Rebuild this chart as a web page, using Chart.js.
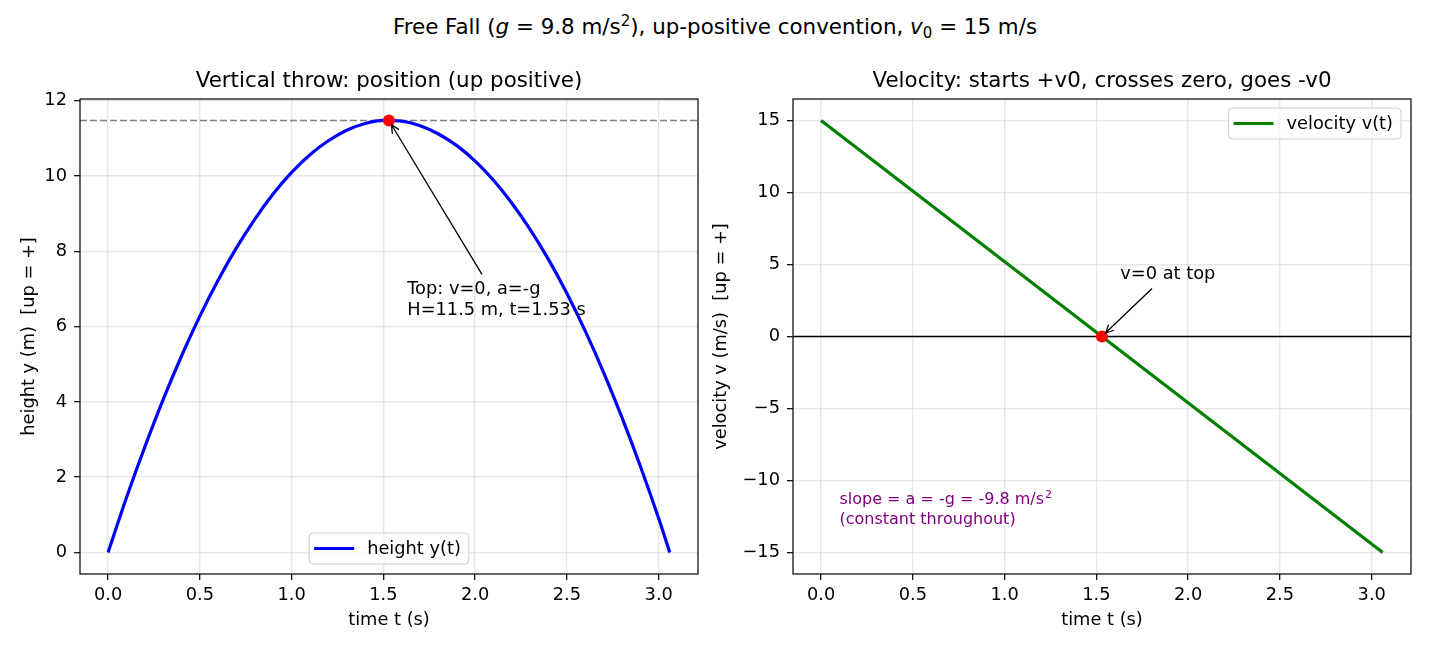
<!DOCTYPE html>
<html>
<head>
<meta charset="utf-8">
<title>Free Fall</title>
<script src="https://cdn.jsdelivr.net/npm/chart.js@4.4.1/dist/chart.umd.min.js"></script>
<style>
  html, body { margin: 0; padding: 0; background: #fff; }
  body { width: 1430px; height: 650px; position: relative; overflow: hidden; font-family: 'DejaVu Sans', sans-serif; }
  #suptitle { position: absolute; left: 0; top: 14px; width: 1430px; text-align: center; font-size: 21.4px; line-height: 26px; color: #000; }
  #suptitle sup { font-size: 15px; line-height: 0; vertical-align: 8px; }
  #suptitle sub { font-size: 15px; line-height: 0; vertical-align: -4px; }
  .panel { position: absolute; top: 0; height: 650px; }
  #leftPanel { left: 0; width: 715px; }
  #rightPanel { left: 710px; width: 720px; }
</style>
</head>
<body>
<div id="suptitle">Free Fall (<i>g</i> = 9.8 m/s<sup>2</sup>), up-positive convention, <i>v</i><sub>0</sub> = 15 m/s</div>
<div class="panel" id="leftPanel"><canvas id="heightChart"></canvas></div>
<div class="panel" id="rightPanel"><canvas id="velocityChart"></canvas></div>

<script>
// Data
const timeS = [0, 0.1, 0.2, 0.3, 0.4, 0.5, 0.6, 0.7, 0.8, 0.9, 1.0, 1.1, 1.2, 1.3, 1.4, 1.5,
               1.6, 1.7, 1.8, 1.9, 2.0, 2.1, 2.2, 2.3, 2.4, 2.5, 2.6, 2.7, 2.8, 2.9, 3.0, 3.06];
const heightM = [0, 1.45, 2.80, 4.06, 5.22, 6.28, 7.24, 8.10, 8.86, 9.53, 10.10, 10.57, 10.94, 11.22, 11.40, 11.48,
                 11.46, 11.34, 11.12, 10.81, 10.40, 9.89, 9.28, 8.58, 7.78, 6.88, 5.88, 4.78, 3.58, 2.29, 0.90, 0];
const velTimeS = [0, 3.06];
const velocityMS = [15, -15];
const peakTime = 1.53;
const peakHeight = 11.48;

// Axis limits and tick steps
const timeLimits = [-0.153, 3.214];
const heightLimits = [-0.574, 12.05];
const velocityLimits = [-16.5, 16.5];
const timeStep = 0.5;
const heightStep = 2;
const velocityStep = 5;

const FONT = "'DejaVu Sans', sans-serif";
const FS = 17.8;      // 10pt
const FS_TITLE = 21.4; // 12pt
const FS_SMALL = 16;  // 9pt

Chart.defaults.font.family = FONT;
Chart.defaults.color = '#000';

function fmtNum(v) {
    return v < 0 ? '\u2212' + Math.abs(v) : String(v);
}

// Build the two linear scales for one panel
function makeScales(yLimits, yStep, yTitle, yWidth, yTitlePad) {
    const grid = { color: 'rgba(176,176,176,0.3)', lineWidth: 1.4, tickColor: '#000', tickLength: 6, tickWidth: 1.2 };
    return {
        x: {
            type: 'linear',
            min: timeLimits[0], max: timeLimits[1],
            grid: grid,
            border: { display: false },
            ticks: { stepSize: timeStep, includeBounds: false, padding: 5, font: { size: FS }, callback: v => v.toFixed(1) },
            title: { display: true, text: 'time t (s)', font: { size: FS }, padding: { top: 0, bottom: 9 } },
            afterFit: s => { s.height = 66; }
        },
        y: {
            type: 'linear',
            min: yLimits[0], max: yLimits[1],
            grid: grid,
            border: { display: false },
            ticks: { stepSize: yStep, includeBounds: false, padding: 7, font: { size: FS }, callback: v => fmtNum(v) },
            title: { display: true, text: yTitle, font: { size: FS }, padding: { top: yTitlePad, bottom: 0 } },
            afterFit: s => { s.width = yWidth; }
        }
    };
}

function drawArrow(ctx, x1, y1, x2, y2) {
    // open '->' head, tip pulled back a little from the target
    const ang = Math.atan2(y2 - y1, x2 - x1);
    const tx = x2 - 5 * Math.cos(ang), ty = y2 - 5 * Math.sin(ang);
    ctx.beginPath();
    ctx.moveTo(x1, y1);
    ctx.lineTo(tx, ty);
    ctx.moveTo(tx - 9 * Math.cos(ang - 0.45), ty - 9 * Math.sin(ang - 0.45));
    ctx.lineTo(tx, ty);
    ctx.lineTo(tx - 9 * Math.cos(ang + 0.45), ty - 9 * Math.sin(ang + 0.45));
    ctx.stroke();
}

function drawLegend(chart, loc) {
    const ds = chart.data.datasets.find(d => d.label);
    const ctx = chart.ctx, a = chart.chartArea;
    ctx.save();
    ctx.font = FS + 'px ' + FONT;
    const tw = ctx.measureText(ds.label).width;
    const w = 5 + 40 + 13 + tw + 8, h = 31;
    let x, y;
    if (loc === 'upper right') { x = a.right - 10 - w; y = a.top + 9; }
    else { x = (a.left + a.right) / 2 - w / 2; y = a.bottom - 10 - h; }
    ctx.beginPath();
    if (ctx.roundRect) ctx.roundRect(x, y, w, h, 4); else ctx.rect(x, y, w, h);
    ctx.fillStyle = 'rgba(255,255,255,0.8)';
    ctx.fill();
    ctx.strokeStyle = '#cccccc';
    ctx.lineWidth = 1;
    ctx.stroke();
    ctx.strokeStyle = ds.borderColor;
    ctx.lineWidth = ds.borderWidth;
    ctx.beginPath();
    ctx.moveTo(x + 5, y + h / 2);
    ctx.lineTo(x + 45, y + h / 2);
    ctx.stroke();
    ctx.fillStyle = '#000';
    ctx.textBaseline = 'middle';
    ctx.textAlign = 'left';
    ctx.fillText(ds.label, x + 58, y + h / 2 + 1);
    ctx.restore();
}

// Axes box, reference lines, annotations, legend, subplot title
const axesDecor = {
    id: 'axesDecor',
    beforeDatasetsDraw(chart, args, opts) {
        const ctx = chart.ctx, a = chart.chartArea, ys = chart.scales.y;
        ctx.save();
        (opts.hlines || []).forEach(h => {
            const py = ys.getPixelForValue(h.value);
            ctx.strokeStyle = h.color;
            ctx.lineWidth = h.width;
            ctx.setLineDash(h.dash || []);
            ctx.beginPath();
            ctx.moveTo(a.left, py);
            ctx.lineTo(a.right, py);
            ctx.stroke();
        });
        ctx.restore();
    },
    afterDatasetsDraw(chart, args, opts) {
        const ctx = chart.ctx, a = chart.chartArea, xs = chart.scales.x, ys = chart.scales.y;
        ctx.save();
        // arrows
        ctx.strokeStyle = '#000';
        ctx.lineWidth = 1.3;
        (opts.arrows || []).forEach(ar => {
            drawArrow(ctx, xs.getPixelForValue(ar.from[0]), ys.getPixelForValue(ar.from[1]),
                      xs.getPixelForValue(ar.to[0]), ys.getPixelForValue(ar.to[1]));
        });
        // text annotations: anchor is the baseline of the last line
        (opts.texts || []).forEach(t => {
            const px = xs.getPixelForValue(t.x), py = ys.getPixelForValue(t.y);
            ctx.fillStyle = t.color || '#000';
            ctx.textAlign = 'left';
            ctx.textBaseline = 'alphabetic';
            const lh = t.size * 1.2;
            t.lines.forEach((ln, i) => {
                const ly = py - (t.lines.length - 1 - i) * lh;
                ctx.font = t.size + 'px ' + FONT;
                ctx.fillText(ln.text, px, ly);
                if (ln.sup) {
                    const w = ctx.measureText(ln.text).width;
                    ctx.font = (t.size * 0.7) + 'px ' + FONT;
                    ctx.fillText(ln.sup, px + w + 1, ly - t.size * 0.4);
                }
            });
        });
        // axes frame
        ctx.strokeStyle = '#000';
        ctx.lineWidth = 1.2;
        ctx.strokeRect(a.left, a.top, a.right - a.left, a.bottom - a.top);
        ctx.restore();
        if (opts.legendLoc) drawLegend(chart, opts.legendLoc);
    },
    afterDraw(chart, args, opts) {
        const ctx = chart.ctx, a = chart.chartArea;
        ctx.save();
        ctx.font = FS_TITLE + 'px ' + FONT;
        ctx.fillStyle = '#000';
        ctx.textAlign = 'center';
        ctx.textBaseline = 'alphabetic';
        ctx.fillText(opts.title, (a.left + a.right) / 2, a.top - 12);
        ctx.restore();
    }
};

function baseOptions(padding) {
    return {
        responsive: true,
        maintainAspectRatio: false,
        animation: false,
        layout: { padding: padding },
        plugins: { legend: { display: false }, tooltip: { enabled: false } },
        events: []
    };
}

// Left panel: height vs time
const heightOpts = baseOptions({ top: 99, left: 0, right: 17, bottom: 10 });
heightOpts.scales = makeScales(heightLimits, heightStep, 'height y (m)  [up = +]', 80, 19);
heightOpts.plugins.axesDecor = {
    title: 'Vertical throw: position (up positive)',
    hlines: [{ value: peakHeight, color: '#808080', width: 1.5, dash: [7, 3] }],
    arrows: [{ from: [2.037, 7.39], to: [peakTime, peakHeight] }],
    texts: [{ x: 1.63, y: 6.31, size: FS, lines: [{ text: 'Top: v=0, a=-g' }, { text: 'H=11.5 m, t=1.53 s' }] }],
    legendLoc: 'lower center'
};
new Chart(document.getElementById('heightChart'), {
    type: 'scatter',
    data: {
        datasets: [
            { label: 'height y(t)', data: timeS.map((t, i) => ({ x: t, y: heightM[i] })), showLine: true,
              borderColor: '#0000ff', borderWidth: 3.2, pointRadius: 0, cubicInterpolationMode: 'monotone', order: 2 },
            { label: '', data: [{ x: peakTime, y: peakHeight }], pointRadius: 6, pointBackgroundColor: '#ff0000',
              pointBorderWidth: 0, showLine: false, order: 1 }
        ]
    },
    options: heightOpts,
    plugins: [axesDecor]
});

// Right panel: velocity vs time
const velOpts = baseOptions({ top: 99, left: 0, right: 19, bottom: 10 });
velOpts.scales = makeScales(velocityLimits, velocityStep, 'velocity v (m/s)  [up = +]', 83, 1);
velOpts.plugins.axesDecor = {
    title: 'Velocity: starts +v0, crosses zero, goes -v0',
    hlines: [{ value: 0, color: '#000000', width: 1.3 }],
    arrows: [{ from: [1.803, 3.34], to: [peakTime, 0] }],
    texts: [
        { x: 1.63, y: 4, size: FS, lines: [{ text: 'v=0 at top' }] },
        { x: 0.1, y: -13, size: FS_SMALL, color: '#800080',
          lines: [{ text: 'slope = a = -g = -9.8 m/s', sup: '2' }, { text: '(constant throughout)' }] }
    ],
    legendLoc: 'upper right'
};
new Chart(document.getElementById('velocityChart'), {
    type: 'scatter',
    data: {
        datasets: [
            { label: 'velocity v(t)', data: velTimeS.map((t, i) => ({ x: t, y: velocityMS[i] })), showLine: true,
              borderColor: '#008000', borderWidth: 3.2, pointRadius: 0, order: 2 },
            { label: '', data: [{ x: peakTime, y: 0 }], pointRadius: 6, pointBackgroundColor: '#ff0000',
              pointBorderWidth: 0, showLine: false, order: 1 }
        ]
    },
    options: velOpts,
    plugins: [axesDecor]
});
</script>
</body>
</html>
